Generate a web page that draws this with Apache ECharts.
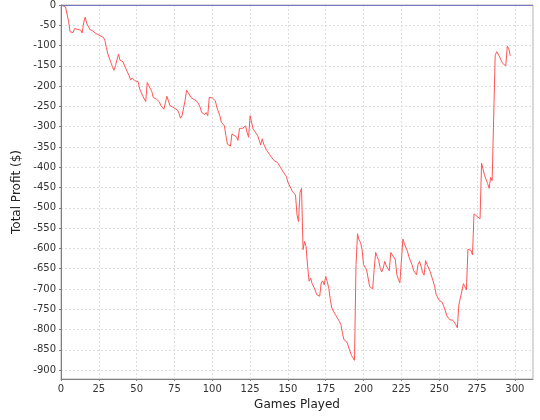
<!DOCTYPE html>
<html>
<head>
<meta charset="utf-8">
<script src="https://cdn.jsdelivr.net/npm/echarts@6/dist/echarts.min.js"></script>
<style>html,body{margin:0;padding:0;background:#fff}#c{width:540px;height:420px}</style>
</head>
<body>
<div id="c"></div>
<script>
const games = [0,3,4,5,6,7,8,9,10,11,12,13,14,15,16,17,19,21,23,26,28,29,30,31,33,34,35,36,37,38,39,41,42,43,44,45,46,47,49,51,52,53,54,55,56,57,58,60,61,63,65,66,68,69,70,71,72,74,75,77,78,79,80,81,82,83,84,86,87,90,91,92,93,94,95,96,97,98,100,101,102,103,105,106,108,109,110,111,112,113,114,116,117,118,119,120,121,122,123,124,125,126,127,128,130,132,133,134,136,138,139,141,143,145,147,149,150,152,153,155,156,157,158,159,160,161,162,163,164,165,166,167,168,169,171,172,173,174,175,176,177,178,179,181,182,183,184,185,186,187,189,190,191,192,193,194,195,196,197,198,199,200,202,203,204,206,207,208,209,210,211,212,213,214,215,217,218,219,221,222,223,224,226,227,228,229,230,232,233,235,236,237,238,239,240,241,242,243,244,246,247,248,249,250,252,253,254,255,256,257,259,260,261,262,263,264,265,266,267,268,269,270,271,272,273,274,275,276,277,278,279,280,281,282,283,284,285,286,287,288,289,290,291,292,293,294,295,296,297];
const profit = [0,-5,-9,-40,-66,-70,-68,-58,-62,-60,-64,-62,-69,-43,-30,-45,-60,-64,-70,-76,-80,-87,-105,-121,-142,-152,-161,-150,-154,-121,-136,-140,-150,-158,-162,-174,-185,-180,-187,-189,-207,-209,-224,-222,-238,-191,-199,-213,-228,-232,-239,-248,-257,-261,-225,-236,-248,-252,-254,-259,-267,-279,-273,-271,-236,-210,-211,-228,-232,-238,-244,-252,-265,-269,-270,-265,-273,-228,-229,-232,-236,-252,-273,-289,-298,-322,-343,-347,-348,-318,-321,-325,-334,-304,-302,-304,-300,-298,-314,-326,-273,-274,-306,-311,-322,-345,-330,-343,-359,-369,-375,-384,-388,-400,-412,-423,-437,-452,-460,-468,-517,-534,-462,-452,-603,-583,-595,-644,-681,-673,-687,-690,-702,-714,-718,-685,-680,-690,-669,-682,-698,-726,-747,-761,-767,-767,-780,-788,-808,-825,-831,-835,-853,-864,-870,-876,-640,-564,-579,-585,-603,-640,-653,-673,-694,-700,-652,-610,-620,-630,-649,-658,-649,-632,-643,-655,-610,-616,-628,-665,-676,-685,-577,-589,-591,-607,-621,-640,-654,-665,-640,-632,-644,-660,-666,-630,-640,-639,-657,-681,-694,-714,-716,-728,-733,-743,-753,-766,-767,-776,-777,-780,-788,-796,-739,-740,-705,-687,-695,-702,-602,-603,-605,-616,-515,-511,-521,-517,-527,-390,-405,-420,-430,-440,-452,-425,-433,-435,-125,-115,-118,-128,-137,-144,-148,-150,-101,-108,-125];
const xTitle = 'Games Played';
const yTitle = 'Total Profit ($)';

const chart = echarts.init(document.getElementById('c'), null, {renderer: 'canvas'});
const font = 'DejaVu Sans';
chart.setOption({
  animation: false,
  backgroundColor: '#ffffff',
  grid: {left: 61, right: 7, top: 4, bottom: 41, show: true, borderColor: '#b0b0b0', borderWidth: 1, containLabel: false},
  xAxis: {
    type: 'value', min: 0, max: 312, interval: 25,
    name: xTitle, nameLocation: 'middle', nameGap: 20,
    nameTextStyle: {fontFamily: font, fontSize: 12, color: '#222'},
    axisLine: {show: true, onZero: false, lineStyle: {color: '#808080', width: 1}},
    axisTick: {show: true, length: 2, lineStyle: {color: '#808080'}},
    axisLabel: {fontFamily: font, fontSize: 10, color: '#333', margin: 5, showMaxLabel: false},
    splitLine: {show: true, lineStyle: {color: '#dedede', type: [2, 2], width: 1}}
  },
  yAxis: {
    type: 'value', min: -922, max: 0, splitNumber: 18, minInterval: 50, maxInterval: 50,
    name: yTitle, nameLocation: 'middle', nameGap: 35, nameRotate: 90,
    nameTextStyle: {fontFamily: font, fontSize: 12, color: '#222'},
    axisLine: {show: true, lineStyle: {color: '#808080', width: 1}},
    axisTick: {show: true, length: 2, lineStyle: {color: '#808080'}},
    axisLabel: {fontFamily: font, fontSize: 10, color: '#333', margin: 5, showMinLabel: false,
      formatter: v => (v % 50 === 0 ? String(v) : '')},
    splitLine: {show: true, lineStyle: {color: '#dedede', type: [2, 2], width: 1}}
  },
  series: [{
    type: 'line',
    data: games.map((g, i) => [g, profit[i]]),
    showSymbol: false,
    symbol: 'none',
    z: 3,
    lineStyle: {color: '#ff5555', width: 1},
    itemStyle: {color: '#ff5555'},
    markLine: {
      silent: true, symbol: 'none', label: {show: false}, z: 5,
      lineStyle: {color: '#7878c8', type: 'solid', width: 1},
      data: [{yAxis: 0}]
    }
  }]
});
</script>
</body>
</html>
